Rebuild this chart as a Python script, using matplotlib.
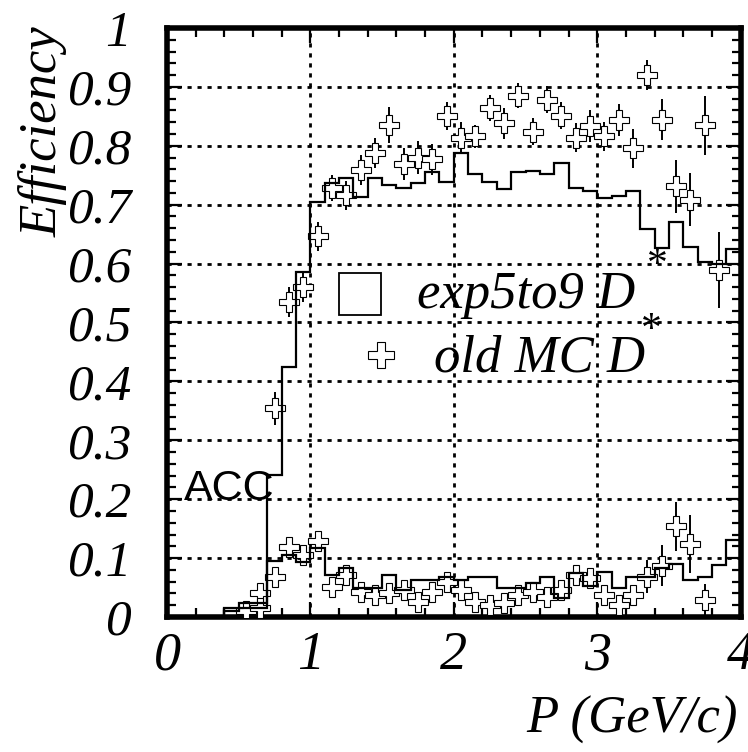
"""ACC efficiency vs momentum: exp5to9 D* histogram against old MC D* points."""

import matplotlib

matplotlib.use("Agg")
import matplotlib.pyplot as plt
from matplotlib.ticker import MultipleLocator
import numpy as np

# 0.1 GeV/c bins from 0 to 4
EDGES = np.round(np.arange(0, 4.0001, 0.1), 2)

# exp5to9 D* (histogram) -- upper: K efficiency, lower: fake rate
EFF_HIST = [0, 0, 0, 0, 0.016, 0.024, 0.024, 0.241, 0.425, 0.586,
            0.705, 0.736, 0.746, 0.713, 0.745, 0.733, 0.728, 0.736, 0.755, 0.739,
            0.787, 0.752, 0.738, 0.727, 0.755, 0.757, 0.752, 0.770, 0.728, 0.723,
            0.712, 0.714, 0.723, 0.659, 0.627, 0.671, 0.629, 0.603, 0.599, 0.624]
FAKE_HIST = [0, 0, 0, 0, 0.010, 0.016, 0.016, 0.095, 0.105, 0.094,
             0.118, 0.071, 0.084, 0.049, 0.049, 0.071, 0.046, 0.063, 0.063, 0.068,
             0.063, 0.068, 0.068, 0.049, 0.049, 0.057, 0.068, 0.032, 0.075, 0.052,
             0.077, 0.049, 0.068, 0.068, 0.083, 0.090, 0.063, 0.068, 0.088, 0.131]

# old MC D* (points with errors)
MC_EFF_P = [0.65, 0.75, 0.85, 0.95, 1.05, 1.15, 1.25, 1.35, 1.45, 1.55, 1.65, 1.75,
            1.85, 1.95, 2.05, 2.15, 2.25, 2.35, 2.45, 2.55, 2.65, 2.75, 2.85,
            2.95, 3.05, 3.15, 3.25, 3.35, 3.45, 3.55, 3.65, 3.75, 3.85]
MC_EFF = [0.040, 0.354, 0.535, 0.560, 0.646, 0.728, 0.716, 0.759, 0.788, 0.835, 0.769,
          0.780, 0.777, 0.851, 0.813, 0.816, 0.864, 0.838, 0.885, 0.824, 0.878,
          0.851, 0.814, 0.834, 0.816, 0.844, 0.796, 0.920, 0.844, 0.731, 0.708,
          0.835, 0.589]
MC_EFF_ERR = [0.010, 0.028, 0.025, 0.025, 0.025, 0.022, 0.025, 0.025, 0.025, 0.030, 0.027,
              0.028, 0.026, 0.024, 0.027, 0.020, 0.022, 0.026, 0.021, 0.023, 0.023,
              0.023, 0.025, 0.027, 0.025, 0.027, 0.033, 0.026, 0.035, 0.045, 0.045,
              0.050, 0.065]

MC_FAKE_P = [0.55, 0.65, 0.75, 0.85, 0.95, 1.05, 1.15, 1.25, 1.35, 1.45, 1.55, 1.65,
             1.75, 1.85, 1.95, 2.05, 2.15, 2.25, 2.35, 2.45, 2.55, 2.65, 2.75,
             2.85, 2.95, 3.05, 3.15, 3.25, 3.35, 3.45, 3.55, 3.65, 3.75]
MC_FAKE = [0.010, 0.015, 0.068, 0.119, 0.105, 0.129, 0.051, 0.071, 0.043, 0.037, 0.040,
           0.046, 0.026, 0.043, 0.060, 0.046, 0.026, 0.020, 0.023, 0.037, 0.043,
           0.034, 0.046, 0.071, 0.066, 0.038, 0.020, 0.038, 0.068, 0.087, 0.154,
           0.124, 0.029]
MC_FAKE_ERR = [0.006, 0.008, 0.010, 0.010, 0.010, 0.010, 0.008, 0.008, 0.008, 0.008, 0.008,
               0.008, 0.008, 0.008, 0.012, 0.008, 0.008, 0.008, 0.008, 0.008, 0.008,
               0.008, 0.010, 0.015, 0.012, 0.010, 0.010, 0.012, 0.028, 0.035, 0.042,
               0.050, 0.027]

plt.rcParams.update({
    "font.family": ["Liberation Serif", "DejaVu Serif"],
    "font.style": "italic",
    "axes.linewidth": 4,
})


def main() -> None:
    fig = plt.figure(figsize=(7.48, 7.52), dpi=100)
    ax = fig.add_axes([0.2233, 0.1795, 0.7668, 0.7833])
    ax.set_xlim(0, 4)
    ax.set_ylim(0, 1)

    ax.xaxis.set_major_locator(MultipleLocator(1))
    ax.xaxis.set_minor_locator(MultipleLocator(0.2))
    ax.yaxis.set_major_locator(MultipleLocator(0.1))
    ax.yaxis.set_minor_locator(MultipleLocator(0.02))
    ax.xaxis.set_major_formatter(lambda v, _: f"{v:g}")
    ax.yaxis.set_major_formatter(lambda v, _: f"{round(v, 2):g}")
    ax.tick_params(which="both", direction="in", top=True, right=True, width=1.6)
    ax.tick_params(which="major", length=11)
    ax.tick_params(which="minor", length=6.5)
    ax.tick_params(axis="x", which="major", pad=10, labelsize=39)
    ax.tick_params(axis="y", which="major", pad=26, labelsize=37)

    ax.grid(True, which="major", color="black", lw=2, ls=(0, (1.5, 2.1)))

    ax.stairs(EFF_HIST, EDGES, color="black", lw=1.6, baseline=None, zorder=4)
    ax.stairs(FAKE_HIST, EDGES, color="black", lw=1.6, baseline=None, zorder=4)

    kw = dict(fmt="P", ms=14.5, mfc="white", mec="black", mew=0.8,
              ecolor="black", elinewidth=1.4, capsize=0, zorder=3)
    ax.errorbar(MC_EFF_P, MC_EFF, yerr=MC_EFF_ERR, **kw)
    ax.errorbar(MC_FAKE_P, MC_FAKE, yerr=MC_FAKE_ERR, **kw)

    # legend drawn by hand, ROOT style
    ax.plot([1.346], [0.548], marker="s", ms=30, mfc="none", mec="black", mew=1.3, ls="none")
    ax.plot([1.494], [0.445], marker="P", ms=19, mfc="white", mec="black", mew=0.8, ls="none")
    ax.text(1.74, 0.525, "exp5to9 D", fontsize=38, va="baseline", zorder=5)
    ax.text(3.42, 0.597, "*", fontsize=30, ha="center", va="center", style="normal")
    ax.text(1.86, 0.4165, "old MC D", fontsize=38, va="baseline", zorder=5)
    ax.text(3.38, 0.486, "*", fontsize=30, ha="center", va="center", style="normal")

    ax.text(0.12, 0.199, "ACC", family="Liberation Sans", style="normal",
            fontsize=31, va="baseline")

    fig.text(0.058, 0.965, "Efficiency", rotation=90, ha="center", va="top", fontsize=38)
    fig.text(0.987, 0.043, "P (GeV/c)", ha="right", va="center", fontsize=38)

    fig.savefig("out.png", dpi=100)
    plt.close(fig)


if __name__ == "__main__":
    main()
